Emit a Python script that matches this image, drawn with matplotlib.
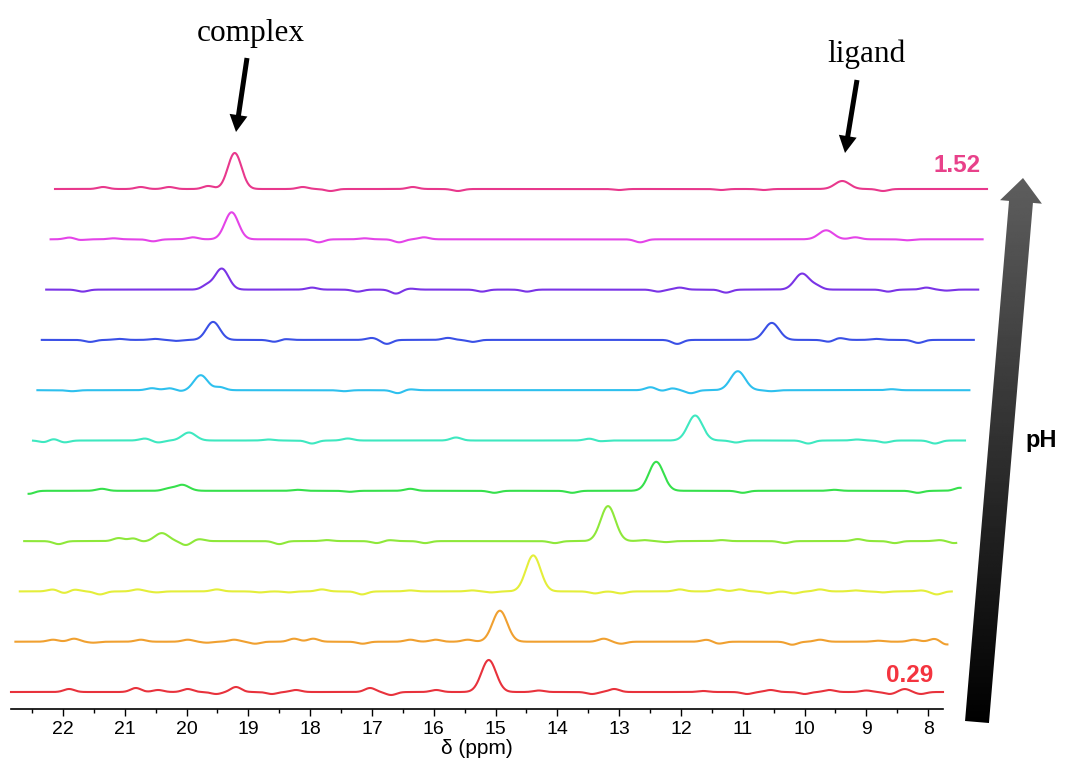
import numpy as np
import matplotlib.pyplot as plt
from matplotlib.patches import FancyArrow

# pH of the bottom and top spectra
ph_labels = ["0.29", "1.52"]

# trace colours, bottom (lowest pH) to top
trace_colors = ["#e8323c", "#f0a030", "#e4ee3a", "#8ee83a", "#36e04c", "#3ee8c0",
                "#2ec0ee", "#3a50e6", "#7a34e6", "#e444e8", "#e8388c"]

# free ligand signal (ppm, intensity) per trace
ligand_shift = [15.11, 14.93, 14.39, 13.18, 12.40, 11.77, 11.08, 10.53, 10.04, 9.65, 9.39]
ligand_height = [32, 31, 36, 35, 29, 25, 19, 17, 16, 9, 8]

# complex signal per trace (absent at the lowest pH)
complex_shift = [20.60, 20.50, 20.45, 20.40, 20.07, 19.96, 19.77, 19.57, 19.43, 19.27, 19.22]
complex_height = [0, 0, 0, 8, 6, 8, 15, 18, 21, 27, 36]

# small baseline wiggles: (ppm, intensity)
baseline_bumps = [
    [(21.9, 3), (20.82, 4), (20.46, 2), (19.98, 3), (19.52, -2), (19.2, 5), (18.62, -2),
     (18.23, 2), (17.03, 4), (16.69, -3), (15.96, 2), (14.3, 1.5), (13.44, -2), (13.08, 3),
     (11.64, 1), (10.93, -2), (10.55, 2), (10.0, -2), (9.6, 2), (9.0, 1.5), (8.62, -2),
     (8.38, 3), (8.12, -2)],
    [(22.16, 2), (21.82, 3), (21.51, -1), (20.74, 2), (19.98, 2), (19.67, -1), (19.23, 2),
     (18.89, -2), (18.26, 3), (17.95, 3), (17.15, -2), (16.38, 2), (15.97, 2), (15.45, 2),
     (13.25, 3), (12.97, -2), (11.58, 2), (11.39, -2), (10.2, -3), (9.75, 2), (8.81, 1),
     (8.23, 2), (7.89, 3), (7.71, -3)],
    [(22.16, 2), (21.97, -2), (21.82, 2), (21.4, -3), (20.79, 2), (20.48, -1), (19.51, 2),
     (18.81, -1), (18.34, -1), (17.81, 2), (17.16, -3), (16.38, 1), (15.38, 1), (15.07, -1),
     (13.39, -2), (12.97, -2), (12.02, 2), (11.39, 2), (11.05, 2), (10.58, -2), (10.17, -2),
     (9.75, 2), (9.18, 1), (8.73, -1), (8.12, 1), (7.86, -3)],
    [(22.07, -3), (21.1, 3), (20.85, 3), (20.74, -1), (20.01, -4), (19.8, 2), (18.5, -3),
     (17.73, 1), (16.92, -2), (16.72, 1), (16.14, -2), (14.04, -2), (12.6, 1), (12.24, -1),
     (11.34, 1), (10.32, -2), (9.14, 2), (8.54, -2), (7.81, 1), (7.58, -2)],
    [(22.55, -3), (21.37, 2), (20.3, 2), (18.2, 1), (17.36, -1), (16.38, 2), (15.02, -2),
     (13.76, -2), (11.0, -2), (9.52, 1), (8.17, -2), (7.49, 3)],
    [(22.29, -2), (22.16, 2), (21.98, -2), (20.67, 2), (20.46, -2), (18.67, 1), (17.97, -3),
     (17.39, 2), (15.64, 3), (13.47, 2), (13.33, -1), (11.11, -2), (9.94, -3), (9.15, 1),
     (8.7, -2), (7.89, -3)],
    [(22.7, 2), (21.85, -1), (20.56, 2), (20.27, 2), (20.09, -1), (19.46, 3), (17.45, -1),
     (16.58, -3), (16.39, 1), (12.49, 3), (12.29, -1), (12.15, 2), (11.84, -3), (10.54, -1),
     (8.59, 1)],
    [(21.56, -2), (21.09, 1), (20.51, 1), (20.17, -1), (18.57, -2), (18.42, 1), (17.0, 2),
     (16.76, -4), (15.77, 2), (15.37, -2), (12.06, -4), (9.6, -2), (9.44, 2), (8.84, 1),
     (8.16, -3)],
    [(22.6, 1), (21.68, -2), (19.67, 4), (17.97, 2), (17.23, -2), (16.61, -4), (16.38, 1),
     (15.22, -2), (14.49, -2), (12.37, -2), (12.02, 2), (11.27, -3), (9.8, 3), (8.65, -2),
     (8.03, 2), (7.7, -1)],
    [(21.88, 2), (21.75, -1), (21.18, 1), (20.54, -2), (19.9, 2), (17.86, -3), (17.12, 1),
     (16.56, -3), (16.16, 2), (12.66, -3), (9.18, 2), (8.34, -1)],
    [(21.35, 2), (20.74, 2), (20.28, 2), (19.65, 3), (18.12, 2), (17.67, -2), (16.34, 2),
     (15.61, -2), (13.0, -1), (11.35, -1), (10.66, -1), (8.73, -2)],
]

W, H = 1067, 763
fig = plt.figure(figsize=(W / 100, H / 100), dpi=100)
plt.rcParams["font.family"] = ["Liberation Sans", "DejaVu Sans"]

# axes box in pixels: x 11..943, y 140..709
ax = fig.add_axes([11 / W, (H - 709) / H, (943 - 11) / W, (709 - 140) / H])
x_left, x_right = 22.84, 7.76
skew = 0.0712   # ppm shift to the right per trace
step = 50.3     # vertical offset per trace (px units)


def gauss(x, c, h, fwhm):
    s = fwhm / 2.355
    return h * np.exp(-0.5 * ((x - c) / s) ** 2)


for i, color in enumerate(trace_colors):
    x = np.linspace(x_left - i * skew, x_right - i * skew, 2000)
    y = gauss(x, ligand_shift[i], ligand_height[i], 0.28)
    y += gauss(x, complex_shift[i], complex_height[i], 0.26)
    for c, h in baseline_bumps[i]:
        y += gauss(x, c, h, 0.2)
    ax.plot(x, y + i * step, color=color, lw=1.5, solid_joinstyle="round", clip_on=False)

ax.set_xlim(x_left, x_right)
ax.set_ylim(-17, 552)
ax.set_xticks(np.arange(22, 7, -1))
ax.set_xticks(np.arange(22.5, 7.5, -1), minor=True)
ax.tick_params(axis="x", which="major", length=5, width=1, labelsize=14, pad=4)
ax.tick_params(axis="x", which="minor", length=3, width=1)
ax.set_yticks([])
for side in ["left", "right", "top"]:
    ax.spines[side].set_visible(False)
ax.spines["bottom"].set_linewidth(1.2)
ax.set_xlabel("δ (ppm)", fontsize=15, labelpad=0)

# overlay in pixel coordinates for annotations
ov = fig.add_axes([0, 0, 1, 1], zorder=5)
ov.set_xlim(0, W)
ov.set_ylim(H, 0)
ov.axis("off")
ov.patch.set_alpha(0)

ov.text(251, 41, "complex", fontsize=22.5, family="Liberation Serif", ha="center", va="baseline")
ov.text(866, 62, "ligand", fontsize=22.5, family="Liberation Serif", ha="center", va="baseline")
ov.add_patch(FancyArrow(247, 58, -11, 74, width=5, head_width=18, head_length=17,
                        length_includes_head=True, color="black", lw=0))
ov.add_patch(FancyArrow(857, 80, -12, 73, width=5, head_width=18, head_length=17,
                        length_includes_head=True, color="black", lw=0))

ov.text(957, 166, ph_labels[1], fontsize=17.5, fontweight="bold", color="#e8418a",
        ha="center", va="center")
ov.text(910, 675, ph_labels[0], fontsize=17.5, fontweight="bold", color="#f4343f",
        ha="center", va="center")
ov.text(1041, 440, "pH", fontsize=17, fontweight="bold", ha="center", va="center")

# big gradient pH arrow: black at the bottom, grey at the tip
big = FancyArrow(977, 722, 46, -544, width=24, head_width=42, head_length=24,
                 length_includes_head=True, facecolor="none", edgecolor="none")
ov.add_patch(big)
grad = np.linspace(0, 1, 256).reshape(-1, 1)
im = ov.imshow(grad, cmap="gray", vmin=0, vmax=2.7, extent=[950, 1055, 725, 175],
               aspect="auto", origin="lower")
im.set_clip_path(big)
ov.set_xlim(0, W)
ov.set_ylim(H, 0)

fig.savefig("out.png", dpi=100)
